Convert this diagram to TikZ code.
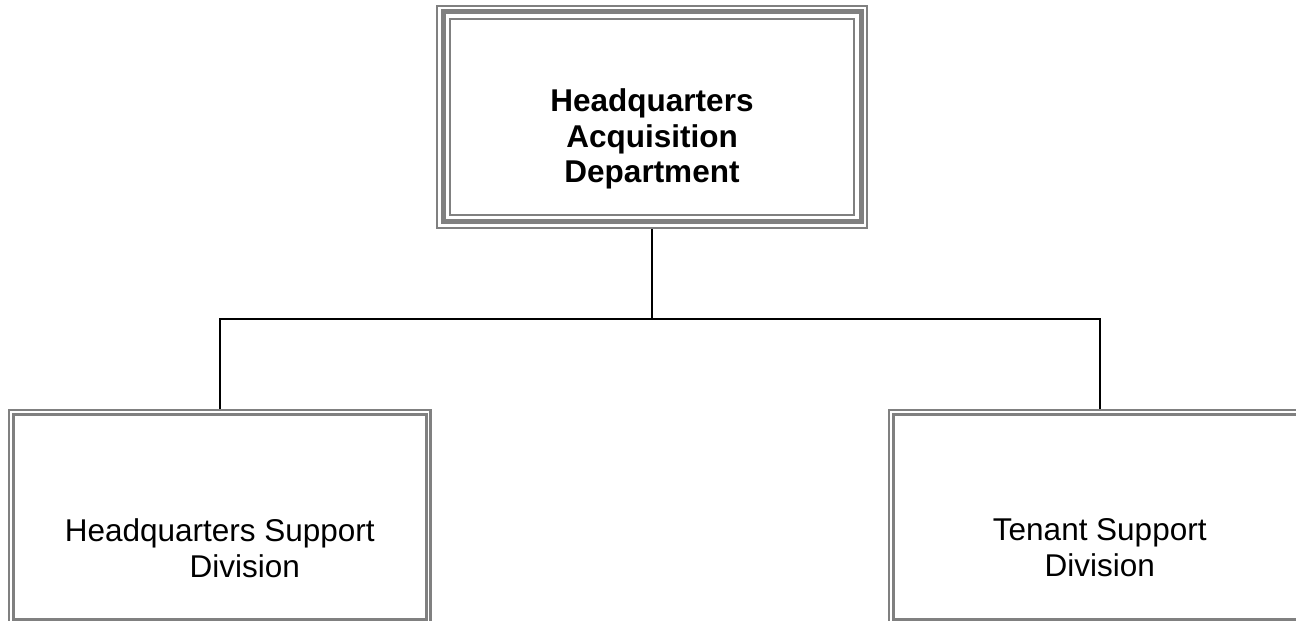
\documentclass[tikz,border=0pt]{standalone}
\usepackage{fontspec}
\setmainfont{Liberation Sans}
\usetikzlibrary{positioning,calc}
\definecolor{framegray}{HTML}{808080}

\tikzset{
    deptbox/.style={draw=framegray, line width=2pt, minimum width=430pt, minimum height=222pt, inner sep=0pt},
    divbox/.style={draw=framegray, line width=2.5pt, minimum width=421.5pt, minimum height=214pt, inner sep=0pt},
    deptlabel/.style={font=\fontsize{31.5}{35.5}\selectfont\bfseries, align=center},
    divlabel/.style={font=\fontsize{31.5}{36}\selectfont, align=center},
    orgline/.style={line width=2.2pt, black}
}

\begin{document}
\begin{tikzpicture}[x=1pt, y=1pt]
        \useasboundingbox (0,0) rectangle (1296,621);
        \clip (0,0) rectangle (1296,621);

        % Department box (triple frame)
        \node[deptbox] (hqdept) at (652,504) {};
        \draw[framegray, line width=5pt] ($(hqdept.north west)+(7,-7)$) rectangle ($(hqdept.south east)+(-7,7)$);
        \draw[framegray, line width=2pt] ($(hqdept.north west)+(14,-14)$) rectangle ($(hqdept.south east)+(-14,14)$);
        \node[deptlabel] (hqdepttext) at ($(hqdept.center)+(0,-22)$) {Headquarters\\Acquisition\\Department};

        % Division boxes (double frame)
        \node[divbox] (hqsupport) at (219.75,104) {};
        \draw[framegray, line width=3pt] ($(hqsupport.north west)+(5.5,-5.5)$) rectangle ($(hqsupport.south east)+(-5.5,5.5)$);
        \node[divlabel] (hqsupporttext) at ($(hqsupport.center)+(0,-31)$) {Headquarters Support\\\hspace*{50pt}Division};

        \node[divbox] (tenant) at (1099.75,104) {};
        \draw[framegray, line width=3pt] ($(tenant.north west)+(5.5,-5.5)$) rectangle ($(tenant.south east)+(-5.5,5.5)$);
        \node[divlabel] (tenanttext) at ($(tenant.center)+(0,-31)$) {Tenant Support\\Division};

        % Connectors
        \coordinate[below=90pt of hqdept] (split);
        \draw[orgline] (hqdept.south) -- (split);
        \draw[orgline] (hqsupport.north) |- (split) -| (tenant.north);
    \end{tikzpicture}
\end{document}
